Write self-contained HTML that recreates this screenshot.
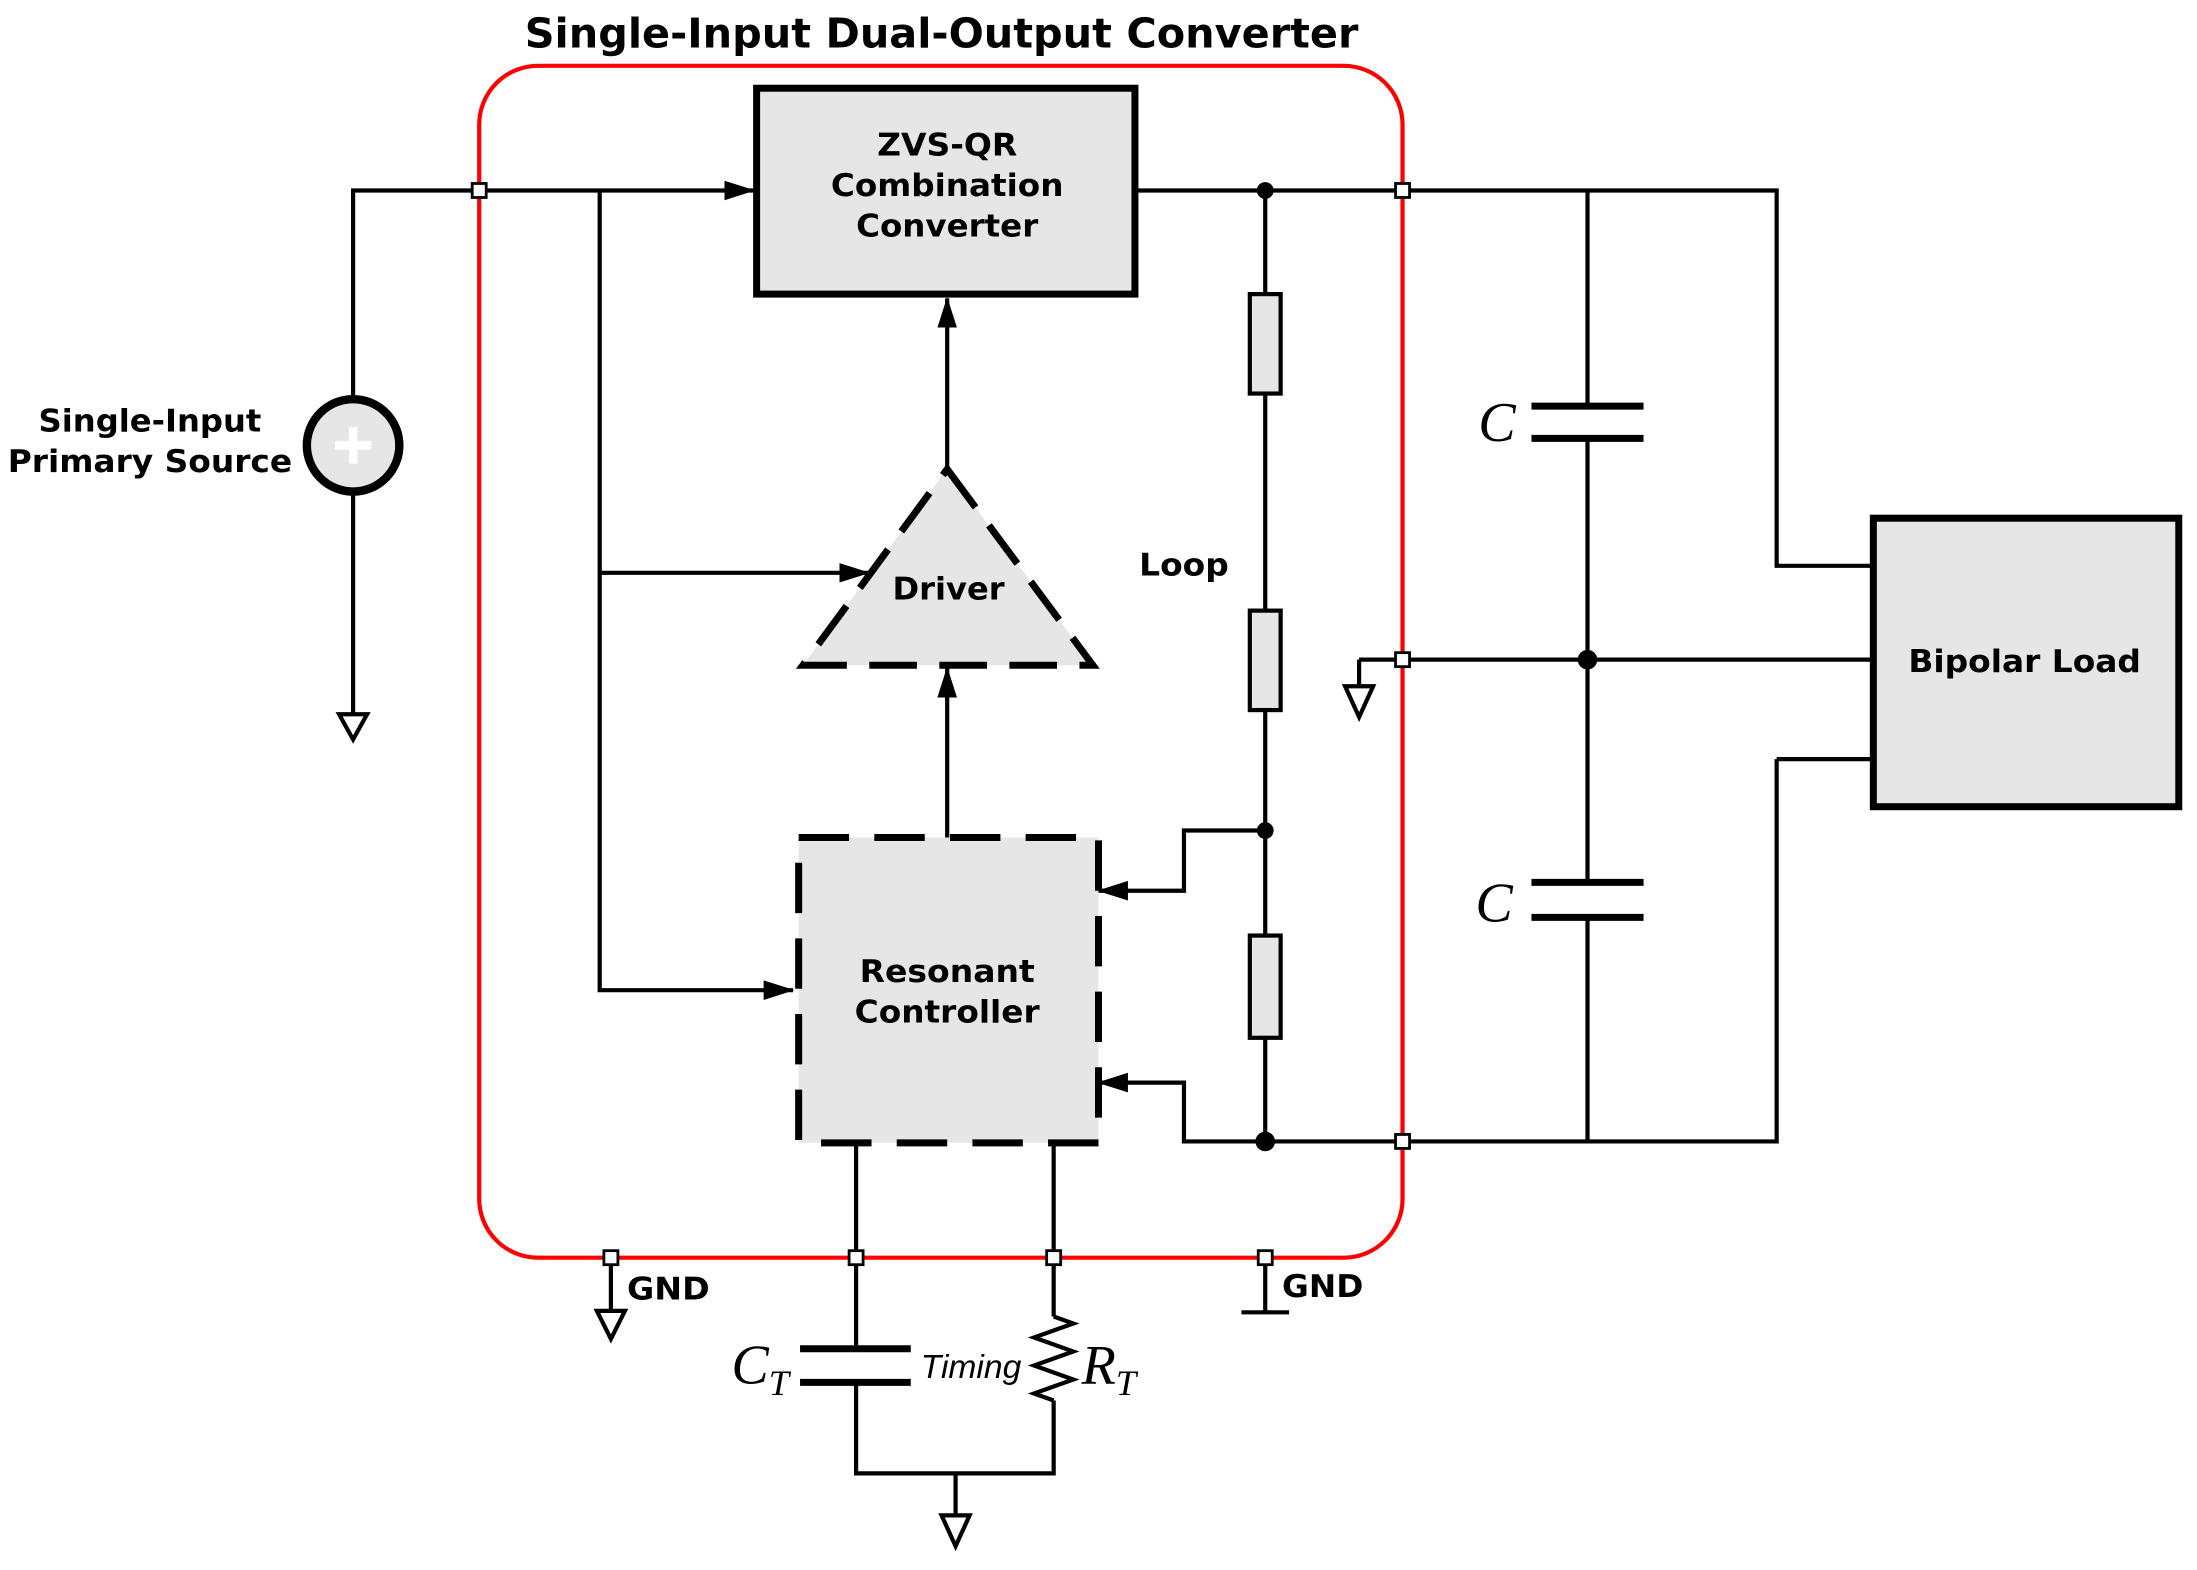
<!DOCTYPE html>
<html><head><meta charset="utf-8"><style>
html,body{margin:0;padding:0;background:#fff;}
svg{display:block;}
.b{font-family:"DejaVu Sans","Liberation Sans",sans-serif;font-weight:bold;text-anchor:middle;}
.s{font-family:"Liberation Serif",serif;font-style:italic;}
</style></head><body>
<svg width="2197" height="1570" viewBox="0 0 1568 1121" preserveAspectRatio="none" xmlns="http://www.w3.org/2000/svg">
<defs>
<marker id="ar" markerWidth="22" markerHeight="16" refX="21" refY="7" orient="auto" markerUnits="userSpaceOnUse" viewBox="0 0 22 14">
<path d="M0,0 L22,7 L0,14 z" fill="#000"/></marker>
</defs>
<rect width="1568" height="1121" fill="#fff"/>
<text class="b" x="672" y="34" font-size="29" textLength="595" lengthAdjust="spacingAndGlyphs">Single-Input Dual-Output Converter</text>
<rect x="342" y="47" width="659" height="851" rx="42" fill="none" stroke="#f00" stroke-width="3"/>
<g stroke="#000" stroke-width="3" fill="none">
<path d="M252,285 V136 H538" marker-end="url(#ar)"/>
<path d="M252,351 V510"/>
<path d="M428,136 V707 H566" marker-end="url(#ar)"/>
<path d="M428,409 H620" marker-end="url(#ar)"/>
<path d="M676,335 V213" marker-end="url(#ar)"/>
<path d="M676,598 V477" marker-end="url(#ar)"/>
<path d="M810,136 H1268 V404 H1337"/>
<path d="M903,136 V210 M903,281 V436 M903,507 V668 M903,741 V815"/>
<path d="M903,593 H845 V636 H784" marker-end="url(#ar)"/>
<path d="M1268,542 H1337 M1268,542 V815 H845 V773 H784" marker-end="url(#ar)"/>
<path d="M1133,136 V290 M1133,313 V630 M1133,655 V815"/>
<path d="M970,471 H1337 M970,471 V490"/>
<path d="M611,816 V963 M611,987 V1052 H752 V1000 M752,816 V940"/>
<path d="M752,940 L766,945 L738,955 L766,965 L738,975 L766,985 L738,995 L752,1000"/>
<path d="M682,1052 V1082"/>
<path d="M436,898 V936"/>
<path d="M903,898 V937 M886,937 H920"/>
</g>
<g stroke="#000" stroke-width="5">
<path d="M1093,290 H1173 M1093,313 H1173 M1093,630 H1173 M1093,655 H1173"/>
<path d="M571,963 H650 M571,987 H650"/>
</g>
<g fill="#fff" stroke="#000" stroke-width="3">
<path d="M242,510 H262 L252,528 z"/>
<path d="M960,490 H980 L970,512 z"/>
<path d="M426,936 H446 L436,956 z"/>
<path d="M672,1082 H692 L682,1104 z"/>
</g>
<rect x="540" y="63" width="270" height="147" fill="#e6e6e6" stroke="#000" stroke-width="5"/>
<text class="b" font-size="22" x="676" y="111" textLength="100" lengthAdjust="spacingAndGlyphs">ZVS-QR</text>
<text class="b" font-size="22" x="676" y="140" textLength="166" lengthAdjust="spacingAndGlyphs">Combination</text>
<text class="b" font-size="22" x="676" y="169" textLength="130" lengthAdjust="spacingAndGlyphs">Converter</text>
<rect x="1337" y="370" width="218" height="206" fill="#e6e6e6" stroke="#000" stroke-width="5"/>
<text class="b" font-size="22" x="1445" y="480" textLength="166" lengthAdjust="spacingAndGlyphs">Bipolar Load</text>
<path d="M676,335 L780,475 L573,475 z" fill="#e6e6e6" stroke="#000" stroke-width="5" stroke-dasharray="34,16"/>
<text class="b" font-size="22" x="677" y="428" textLength="80" lengthAdjust="spacingAndGlyphs">Driver</text>
<rect x="570" y="598" width="214" height="218" fill="#e6e6e6" stroke="#000" stroke-width="5" stroke-dasharray="36,18"/>
<text class="b" font-size="22" x="676" y="701" textLength="125" lengthAdjust="spacingAndGlyphs">Resonant</text>
<text class="b" font-size="22" x="676" y="730" textLength="132" lengthAdjust="spacingAndGlyphs">Controller</text>
<g fill="#e6e6e6" stroke="#000" stroke-width="3">
<rect x="892" y="210" width="22" height="71"/>
<rect x="892" y="436" width="22" height="71"/>
<rect x="892" y="668" width="22" height="73"/>
</g>
<circle cx="252" cy="318" r="33" fill="#e6e6e6" stroke="#000" stroke-width="6"/>
<path d="M252,305 V331 M239,318 H265" stroke="#fff" stroke-width="6"/>
<text class="b" font-size="22" x="107" y="308" textLength="159" lengthAdjust="spacingAndGlyphs">Single-Input</text>
<text class="b" font-size="22" x="107" y="337" textLength="203" lengthAdjust="spacingAndGlyphs">Primary Source</text>
<g fill="#000">
<circle cx="903" cy="136" r="6"/><circle cx="903" cy="593" r="6"/>
<circle cx="903" cy="815" r="7"/><circle cx="1133" cy="471" r="7"/>
</g>
<g fill="#fff" stroke="#000" stroke-width="2">
<rect x="337" y="131" width="10" height="10"/>
<rect x="996" y="131" width="10" height="10"/>
<rect x="996" y="466" width="10" height="10"/>
<rect x="996" y="810" width="10" height="10"/>
<rect x="431" y="893" width="10" height="10"/>
<rect x="606" y="893" width="10" height="10"/>
<rect x="747" y="893" width="10" height="10"/>
<rect x="898" y="893" width="10" height="10"/>
</g>
<text class="b" font-size="22" x="845" y="411" textLength="64" lengthAdjust="spacingAndGlyphs">Loop</text>
<text class="b" font-size="22" x="477" y="928" textLength="59" lengthAdjust="spacingAndGlyphs">GND</text>
<text class="b" font-size="22" x="944" y="926" textLength="58" lengthAdjust="spacingAndGlyphs">GND</text>
<text class="s" font-size="40" x="1055" y="315">C</text>
<text class="s" font-size="40" x="1053" y="658">C</text>
<text class="s" font-size="40" x="522" y="988">C<tspan font-size="26" dy="8">T</tspan></text>
<text class="s" font-size="40" x="772" y="988">R<tspan font-size="26" dy="8">T</tspan></text>
<text font-family="Liberation Sans,sans-serif" font-style="italic" font-size="24" x="693" y="984" text-anchor="middle">Timing</text>
</svg>
</body></html>
